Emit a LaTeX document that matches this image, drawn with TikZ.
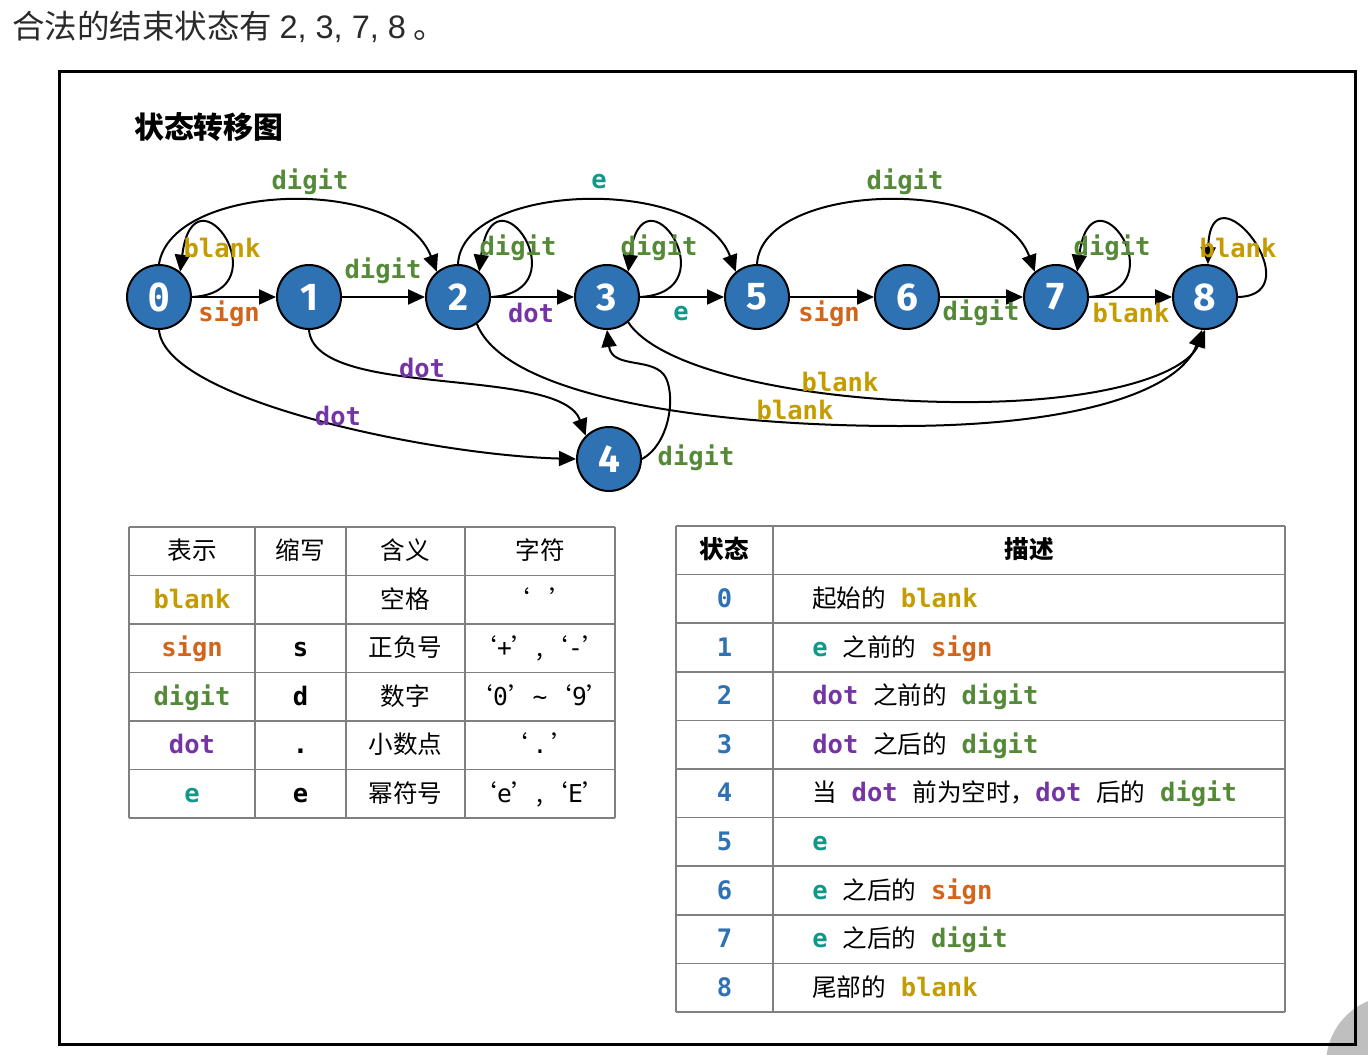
\documentclass[tikz,border=0pt]{standalone}
\usepackage{fontspec}
\setmainfont{Noto Sans CJK SC}
\newfontfamily\monof{DejaVu Sans Mono}
\newfontfamily\numf{Fira Sans}
\newfontfamily\latf{Liberation Sans}
\usetikzlibrary{arrows.meta}
\definecolor{StateBlue}{HTML}{2E72B4}
\definecolor{Blank}    {HTML}{C49C00}
\definecolor{Sign}     {HTML}{D2641C}
\definecolor{Digit}    {HTML}{548A37}
\definecolor{Dot}      {HTML}{7434A4}
\definecolor{Expo}     {HTML}{12988B}
\definecolor{Ink}      {HTML}{2A2A2A}

\newcommand\kw[2]{{\monof\bfseries\fontsize{14.5}{16}\selectfont\color{#1}#2}}
\newcommand\kwblank{\kw{Blank}{blank}}
\newcommand\kwsign{\kw{Sign}{sign}}
\newcommand\kwdigit{\kw{Digit}{digit}}
\newcommand\kwdot{\kw{Dot}{dot}}
\newcommand\kwe{\kw{Expo}{e}}
\newcommand\ch[1]{{\monof #1}}
\newcommand\gap{\hspace{0.6em}}

\tikzset{
  state/.style={circle, draw=black, line width=0.04cm, fill=StateBlue, text=white,
                minimum size=1.28cm, inner sep=0pt, font=\numf\bfseries\fontsize{22}{24}\selectfont},
  arr/.style={-{Triangle[length=0.34cm, width=0.3cm]}, line width=0.04cm},
  lbl/.style={inner sep=0pt},
  grid/.style={draw=black!50, line width=0.035cm},
  cell/.style={inner sep=0pt, anchor=base, font=\fontsize{14}{16}\selectfont, text=black}
}

\begin{document}
\begin{tikzpicture}[x=0.02cm, y=-0.02cm]
  \useasboundingbox (0,0) rectangle (1368,1054);
  % corner overlay
  \begin{scope}
    \clip (0,0) rectangle (1368,1054);
    \fill[black!25] (1394,1064) circle (68);
  \end{scope}
  \draw[line width=0.06cm] (59,72) rectangle (1355,1044);

  \node[anchor=west, text=Ink, font=\fontsize{18.5}{20}\selectfont] (intro) at (6,27)
    {合法的结束状态有 {\latf 2, 3, 7, 8} 。};
  \node[anchor=west, font=\bfseries\fontsize{17}{20}\selectfont] (title) at (128,127) {状态转移图};

  % states
  \node[state] (n0) at (159,297) {\monof\bfseries 0};
  \node[state] (n1) at (309,297) {1};
  \node[state] (n2) at (458,297) {2};
  \node[state] (n3) at (607,297) {3};
  \node[state] (n4) at (609,459) {4};
  \node[state] (n5) at (757,297) {5};
  \node[state] (n6) at (907,297) {6};
  \node[state] (n7) at (1056,297) {7};
  \node[state] (n8) at (1205,297) {8};

  % straight transitions
  \draw[arr] (n0) -- (n1);
  \draw[arr] (n1) -- (n2);
  \draw[arr] (n2) -- (n3);
  \draw[arr] (n3) -- (n5);
  \draw[arr] (n5) -- (n6);
  \draw[arr] (n6) -- (n7);
  \draw[arr] (n7) -- (n8);

  % self loops
  \foreach \s/\cx in {n0/159,n2/458,n3/607,n7/1056}
    \draw[arr] (\s.east) .. controls ({\cx+125},292) and ({\cx+35},160) .. (\s.50);
  \draw[arr] (n8.east) .. controls (1315,295) and (1210,160) .. (n8.85);

  % arcs over the top
  \draw[arr] (n0.north) .. controls (172,182) and (400,175) .. (n2.130);
  \draw[arr] (n2.north) .. controls (462,182) and (700,175) .. (n5.130);
  \draw[arr] (n5.north) .. controls (762,182) and (1000,175) .. (n7.130);

  % arcs below
  \draw[arr] (n0.south) .. controls (165,400) and (430,455) .. (n4.west);
  \draw[arr] (n1.south) .. controls (315,400) and (560,365) .. (n4.135);
  \draw[arr] (n4.east) .. controls (668,445) and (676,400) .. (666,378)
                       .. controls (655,356) and (612,370) .. (n3.south);
  \draw[arr] (n2.-55) .. controls (505,395) and (700,426) .. (900,426)
                      .. controls (1080,426) and (1180,390) .. (n8.-95);
  \draw[arr] (n3.-50) .. controls (660,370) and (800,400) .. (950,402)
                      .. controls (1100,404) and (1185,375) .. (n8.-90);

  % transition labels
  \node[lbl] (l01)  at (229,314)  {\kwsign};
  \node[lbl] (l00)  at (222,248)  {\kwblank};
  \node[lbl] (l12)  at (383,271)  {\kwdigit};
  \node[lbl] (l02)  at (310,182)  {\kwdigit};
  \node[lbl] (l22)  at (518,248)  {\kwdigit};
  \node[lbl] (l23)  at (531,313)  {\kwdot};
  \node[lbl] (l25)  at (599,182)  {\kwe};
  \node[lbl] (l33)  at (659,248)  {\kwdigit};
  \node[lbl] (l35)  at (681,314)  {\kwe};
  \node[lbl] (l56)  at (829,314)  {\kwsign};
  \node[lbl] (l57)  at (905,182)  {\kwdigit};
  \node[lbl] (l67)  at (981,313)  {\kwdigit};
  \node[lbl] (l77)  at (1112,248) {\kwdigit};
  \node[lbl] (l78)  at (1131,313) {\kwblank};
  \node[lbl] (l88)  at (1238,248) {\kwblank};
  \node[lbl] (l14)  at (422,368)  {\kwdot};
  \node[lbl] (l04)  at (338,416)  {\kwdot};
  \node[lbl] (l38)  at (840,382)  {\kwblank};
  \node[lbl] (l28)  at (795,410)  {\kwblank};
  \node[lbl] (l43)  at (696,458)  {\kwdigit};

  % table of symbols
  \foreach \x in {129,255,346,465,615}
    \draw[grid] (\x,527) -- (\x,818);
  \foreach \i in {0,...,6}
    \draw[grid] (129,{527+48.5*\i}) -- (615,{527+48.5*\i});
  \foreach \i/\ca/\cb/\cc/\cd in {
      0/{表示}/{缩写}/{含义}/{字符},
      1/{\kwblank}/{}/{空格}/{‘\ch{\ \,}’},
      2/{\kwsign}/{\kw{black}{s}}/{正负号}/{‘\ch{+}’,‘\ch{-}’},
      3/{\kwdigit}/{\kw{black}{d}}/{数字}/{‘\ch{0}’\ch{\textasciitilde}‘\ch{9}’},
      4/{\kwdot}/{\kw{black}{.}}/{小数点}/{‘\ch{\,.\,}’},
      5/{\kwe}/{\kw{black}{e}}/{幂符号}/{‘\ch{e}’,‘\ch{E}’}} {
    \node[cell] at (192,{559.5+48.5*\i})   {\ca};
    \node[cell] at (300.5,{559.5+48.5*\i}) {\cb};
    \node[cell] at (405.5,{559.5+48.5*\i}) {\cc};
    \node[cell] at (540,{559.5+48.5*\i})   {\cd};
  }

  % table of states
  \foreach \x in {676,773,1285}
    \draw[grid] (\x,526) -- (\x,1012);
  \foreach \i in {0,...,10}
    \draw[grid] (676,{526+48.6*\i}) -- (1285,{526+48.6*\i});
  \node[cell, font=\bfseries\fontsize{14}{16}\selectfont] (hs) at (724.5,558.8) {状态};
  \node[cell, font=\bfseries\fontsize{14}{16}\selectfont] (hd) at (1029,558.8) {描述};
  \foreach \i/\d in {
      0/{起始的\gap\kwblank},
      1/{\kwe\gap 之前的\gap\kwsign},
      2/{\kwdot\gap 之前的\gap\kwdigit},
      3/{\kwdot\gap 之后的\gap\kwdigit},
      4/{当\gap\kwdot\gap 前为空时，\kwdot\gap 后的\gap\kwdigit},
      5/{\kwe},
      6/{\kwe\gap 之后的\gap\kwsign},
      7/{\kwe\gap 之后的\gap\kwdigit},
      8/{尾部的\gap\kwblank}} {
    \node[cell] at (724.5,{607.4+48.6*\i}) {\kw{StateBlue}{\i}};
    \node[cell, anchor=base west] at (812,{607.4+48.6*\i}) {\d};
  }
\end{tikzpicture}
\end{document}
